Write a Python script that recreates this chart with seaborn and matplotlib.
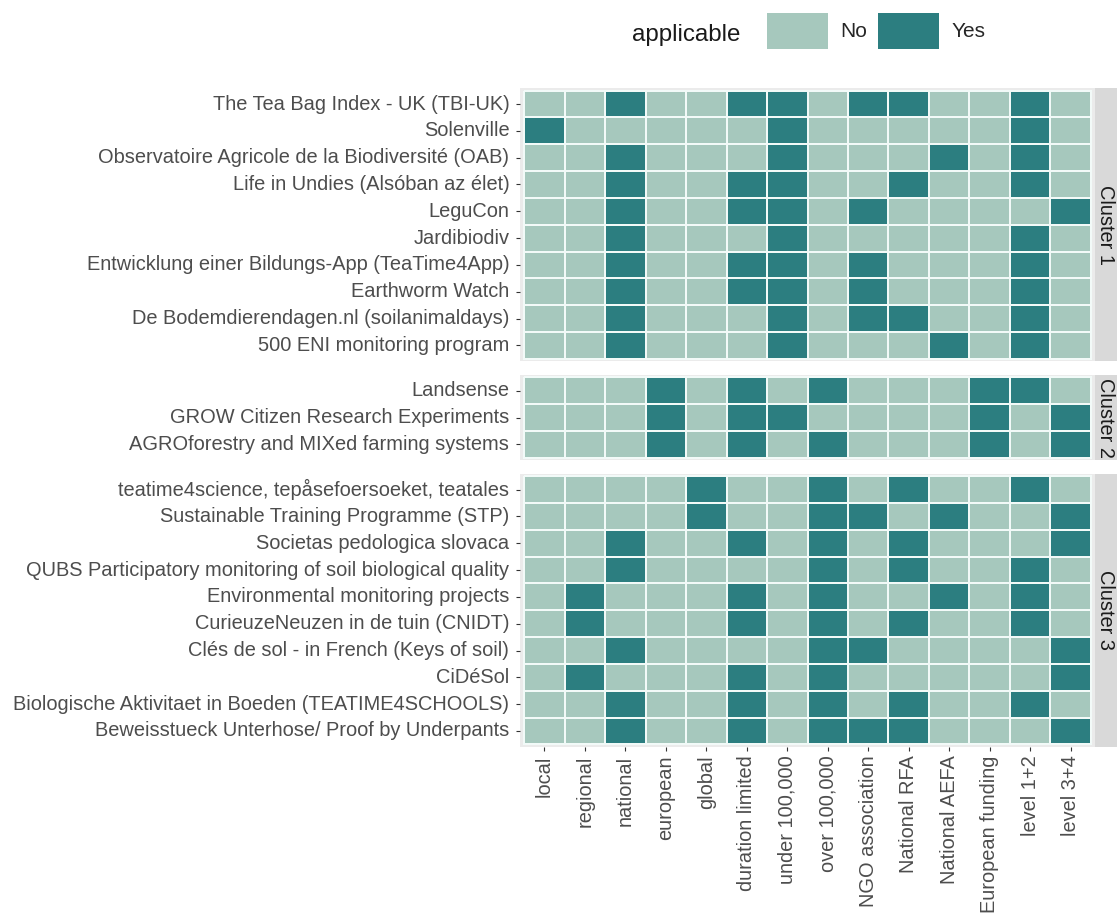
import numpy as np
import pandas as pd
import matplotlib
matplotlib.use("Agg")
import matplotlib.pyplot as plt
import seaborn as sns
from matplotlib.colors import ListedColormap
from matplotlib.patches import Patch

features = ["local", "regional", "national", "european", "global",
            "duration limited", "under 100,000", "over 100,000",
            "NGO association", "National RFA", "National AEFA",
            "European funding", "level 1+2", "level 3+4"]

cluster1_names = ["The Tea Bag Index - UK (TBI-UK)", "Solenville",
                  "Observatoire Agricole de la Biodiversité (OAB)",
                  "Life in Undies (Alsóban az élet)", "LeguCon", "Jardibiodiv",
                  "Entwicklung einer Bildungs-App (TeaTime4App)", "Earthworm Watch",
                  "De Bodemdierendagen.nl (soilanimaldays)",
                  "500 ENI monitoring program"]
cluster1_vals = [
    [0, 0, 1, 0, 0, 1, 1, 0, 1, 1, 0, 0, 1, 0],
    [1, 0, 0, 0, 0, 0, 1, 0, 0, 0, 0, 0, 1, 0],
    [0, 0, 1, 0, 0, 0, 1, 0, 0, 0, 1, 0, 1, 0],
    [0, 0, 1, 0, 0, 1, 1, 0, 0, 1, 0, 0, 1, 0],
    [0, 0, 1, 0, 0, 1, 1, 0, 1, 0, 0, 0, 0, 1],
    [0, 0, 1, 0, 0, 0, 1, 0, 0, 0, 0, 0, 1, 0],
    [0, 0, 1, 0, 0, 1, 1, 0, 1, 0, 0, 0, 1, 0],
    [0, 0, 1, 0, 0, 1, 1, 0, 1, 0, 0, 0, 1, 0],
    [0, 0, 1, 0, 0, 0, 1, 0, 1, 1, 0, 0, 1, 0],
    [0, 0, 1, 0, 0, 0, 1, 0, 0, 0, 1, 0, 1, 0],
]

cluster2_names = ["Landsense", "GROW Citizen Research Experiments",
                  "AGROforestry and MIXed farming systems"]
cluster2_vals = [
    [0, 0, 0, 1, 0, 1, 0, 1, 0, 0, 0, 1, 1, 0],
    [0, 0, 0, 1, 0, 1, 1, 0, 0, 0, 0, 1, 0, 1],
    [0, 0, 0, 1, 0, 1, 0, 1, 0, 0, 0, 1, 0, 1],
]

cluster3_names = ["teatime4science, tepåsefoersoeket, teatales",
                  "Sustainable Training Programme (STP)",
                  "Societas pedologica slovaca",
                  "QUBS Participatory monitoring of soil biological quality",
                  "Environmental monitoring projects",
                  "CurieuzeNeuzen in de tuin (CNIDT)",
                  "Clés de sol - in French (Keys of soil)", "CiDéSol",
                  "Biologische Aktivitaet in Boeden (TEATIME4SCHOOLS)",
                  "Beweisstueck Unterhose/ Proof by Underpants"]
cluster3_vals = [
    [0, 0, 0, 0, 1, 0, 0, 1, 0, 1, 0, 0, 1, 0],
    [0, 0, 0, 0, 1, 0, 0, 1, 1, 0, 1, 0, 0, 1],
    [0, 0, 1, 0, 0, 1, 0, 1, 0, 1, 0, 0, 0, 1],
    [0, 0, 1, 0, 0, 0, 0, 1, 0, 1, 0, 0, 1, 0],
    [0, 1, 0, 0, 0, 1, 0, 1, 0, 0, 1, 0, 1, 0],
    [0, 1, 0, 0, 0, 1, 0, 1, 0, 1, 0, 0, 1, 0],
    [0, 0, 1, 0, 0, 0, 0, 1, 1, 0, 0, 0, 0, 1],
    [0, 1, 0, 0, 0, 1, 0, 1, 0, 0, 0, 0, 0, 1],
    [0, 0, 1, 0, 0, 1, 0, 1, 0, 1, 0, 0, 1, 0],
    [0, 0, 1, 0, 0, 1, 0, 1, 1, 1, 0, 0, 0, 1],
]

cluster_labels = ["Cluster 1", "Cluster 2", "Cluster 3"]
legend_labels = ["No", "Yes"]

col_no = "#A6C8BD"
col_yes = "#2C7E80"

sns.set_style("white")
plt.rcParams["font.family"] = ["Liberation Sans", "DejaVu Sans"]

W, H = 1120, 917
fig = plt.figure(figsize=(W / 100, H / 100), dpi=100)

def px_axes(x0, y0, x1, y1):
    return fig.add_axes([x0 / W, 1 - y1 / H, (x1 - x0) / W, (y1 - y0) / H])

clusters = [(cluster1_names, cluster1_vals),
            (cluster2_names, cluster2_vals),
            (cluster3_names, cluster3_vals)]

left, right, strip_r = 520, 1095, 1117
top, bottom, gap = 88, 747, 13.2
unit = (bottom - top - 2 * gap) / sum(len(n) + 0.2 for n, _ in clusters)
fs = 14.4

y = top
cmap = ListedColormap([col_no, col_yes])
for i, (names, vals) in enumerate(clusters):
    h = (len(names) + 0.2) * unit
    ax = px_axes(left, y, right, y + h)
    df = pd.DataFrame(vals, index=names, columns=features)
    sns.heatmap(df, cmap=cmap, vmin=0, vmax=1, cbar=False, ax=ax,
                linewidths=1.3, linecolor="#F2FAF8")
    ax.set_facecolor("#EBEBEB")
    ax.set_xlim(-0.1, len(features) + 0.1)
    ax.set_ylim(len(names) + 0.1, -0.1)
    ax.set_xlabel("")
    ax.set_ylabel("")
    ax.tick_params(axis="y", left=True, length=3.2, width=0.8, color="#333333",
                   pad=4.5, labelsize=fs, labelcolor="#4D4D4D", rotation=0)
    for s in ax.spines.values():
        s.set_visible(False)
    if i < 2:
        ax.set_xticks([])
    else:
        ax.tick_params(axis="x", bottom=True, length=3.2, width=0.8,
                       color="#333333", pad=3, labelsize=fs,
                       labelcolor="#4D4D4D")
        for t in ax.get_xticklabels():
            t.set_rotation(90)
            t.set_va("top")
            t.set_ha("center")

    sax = px_axes(right, y, strip_r, y + h)
    sax.set_facecolor("#D9D9D9")
    sax.set_xticks([])
    sax.set_yticks([])
    for s in sax.spines.values():
        s.set_visible(False)
    sax.text(0.5, 0.5, cluster_labels[i], rotation=270, ha="center",
             va="center", fontsize=fs, color="#1A1A1A",
             transform=sax.transAxes)
    y += h + gap

fig.text(686 / W, 1 - 35 / H, "applicable", ha="center", va="center",
         fontsize=17.4, color="#1A1A1A")
handles = [Patch(facecolor=col_no, edgecolor="none"),
           Patch(facecolor=col_yes, edgecolor="none")]
fig.legend(handles, legend_labels, loc="center left",
           bbox_to_anchor=(767 / W, 1 - 31 / H), ncol=2, frameon=False,
           fontsize=15, handlelength=2.93, handleheight=2.28,
           handletextpad=0.58, columnspacing=0.53, borderaxespad=0,
           borderpad=0)

fig.savefig("out.png", dpi=100)
